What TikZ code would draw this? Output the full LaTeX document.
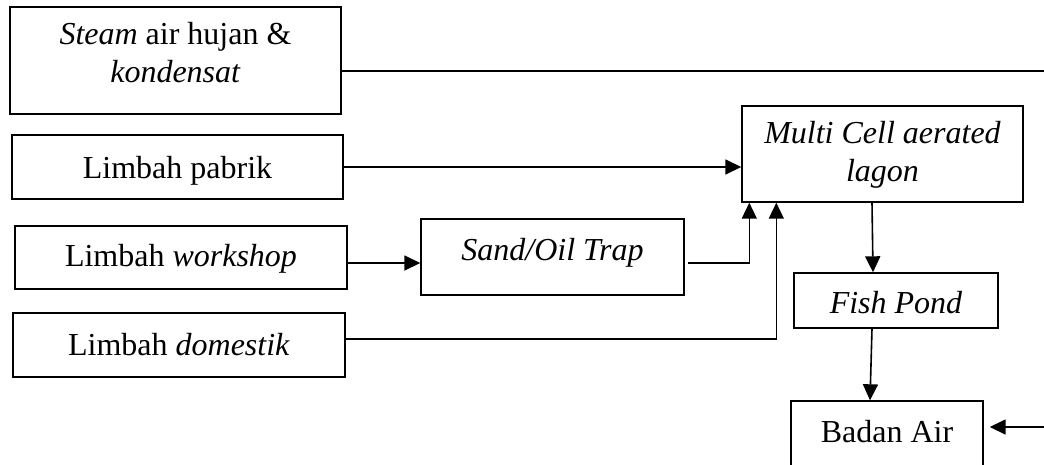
\documentclass[tikz,border=0pt]{standalone}
\usepackage{fontspec}
\setmainfont{Liberation Serif}
\usetikzlibrary{arrows.meta}
\begin{document}
\begin{tikzpicture}[x=1pt,y=-1pt,
  box/.style={draw, line width=1.4pt, inner sep=0pt},
  txt/.style={inner sep=0pt, align=center, font=\fontsize{32pt}{38pt}\selectfont},
  conn/.style={line width=1.6pt},
  arr/.style={conn, -{Triangle[length=16pt,width=15pt]}}]
\useasboundingbox (0,0) rectangle (1044,464);
\clip (0,0) rectangle (1044,464);
% boxes
\node[box, minimum width=331pt, minimum height=107pt] (steam) at (175.5,60.5) {};
\node[txt] (steamt) at (175.5,53) {\textit{Steam} air hujan \&\\\textit{kondensat}};
\node[box, minimum width=331pt, minimum height=64pt] (pabrik) at (177.5,167) {};
\node[txt, anchor=base] (pabrikt) at (177.5,178.3) {Limbah pabrik};
\node[box, minimum width=332pt, minimum height=63pt] (workshop) at (181,257.5) {};
\node[txt, anchor=base] (workshopt) at (181,266.7) {Limbah \textit{workshop}};
\node[box, minimum width=332pt, minimum height=64pt] (domestik) at (179,345) {};
\node[txt, anchor=base] (domestikt) at (179,355) {Limbah \textit{domestik}};
\node[box, minimum width=281pt, minimum height=96pt] (multi) at (882.5,154) {};
\node[txt] (multit) at (882.5,155) {\fontsize{32pt}{37pt}\selectfont\textit{Multi Cell aerated}\\\textit{lagon}};
\node[box, minimum width=263pt, minimum height=76pt] (sand) at (552.5,257) {};
\node[txt, anchor=base] (sandt) at (552.5,260) {\textit{Sand/Oil Trap}};
\node[box, minimum width=204pt, minimum height=55pt] (fish) at (896,300.5) {};
\node[txt, anchor=base] (fisht) at (896,313) {\textit{Fish Pond}};
\node[box, minimum width=192pt, minimum height=79pt] (badan) at (887,440.5) {};
\node[txt, anchor=base] (badant) at (887,442) {Badan Air};
% free ends
\coordinate (steamEnd) at (1044,71);
\coordinate (badanIn) at (1044,427);
% connectors
\draw[conn] (steam.east |- steamEnd) -- (steamEnd);
\draw[arr] (pabrik.east) -- (pabrik.east -| multi.west);
\draw[arr] ([yshift=-5.5pt]workshop.east) -- ([yshift=-6pt]sand.west);
\draw[arr] ([xshift=3pt,yshift=-6pt]sand.east) -| ([xshift=8pt]multi.south west);
\draw[arr] ([yshift=6pt]domestik.east) -| ([xshift=35pt]multi.south west);
\draw[arr] ([xshift=-10.5pt]multi.south) -- ([xshift=-23pt]fish.north);
\draw[arr] ([xshift=-24pt]fish.south) -- ([xshift=-17pt]badan.north);
\draw[arr] (badanIn) -- ([xshift=6pt]badan.east |- badanIn);
\end{tikzpicture}
\end{document}
